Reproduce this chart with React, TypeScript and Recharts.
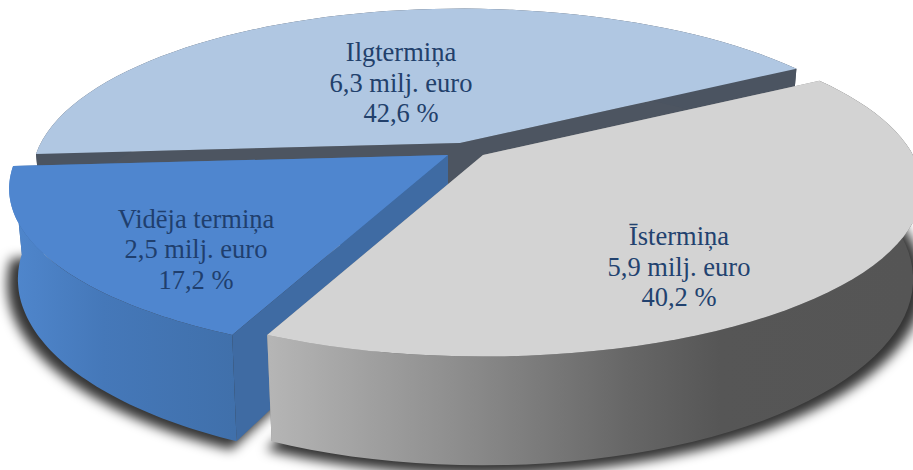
import React from "react";
import { PieChart, Pie } from "recharts";

const categories = ["Ilgtermiņa", "Vidēja termiņa", "Īstermiņa"];
const euroMillions = [6.3, 2.5, 5.9];
const shares = [42.6, 17.2, 40.2];

const chartData = categories.map((name, i) => ({ name, value: shares[i] }));

// look of each slice, same order as categories
const topColors = ["#b0c7e2", "#4f86cf", "#d3d3d3"];
const wallFills = ["#4b5461", "url(#blueWall)", "url(#grayWall)"];
const cutFills = ["#4d5561", "#3f6ba3", "#8a8a8a"];
const textColors = ["#22406b", "#1f3f6e", "#22426f"];
const explode = [
  [0, -7],
  [-12, 5],
  [23, 5],
];
// the back slice is a little narrower on its left side
const leftScale = [0.975, 1, 1];
const labelCenters = [
  [401, 53],
  [196, 219.5],
  [679, 237],
];

const CX = 460;
const CY = 150;
const RADIUS = 430;
const TILT = 0.375;
const PERSPECTIVE = 0.2;
const DEPTH = 87;
const STEPS = 60;

const toPoint = (
  ox: number,
  oy: number,
  radius: number,
  deg: number,
  frac: number,
  bottom = false,
  leftK = 1
) => {
  const a = (deg * Math.PI) / 180;
  const u = Math.cos(a) * frac;
  const v = Math.sin(a) * frac;
  const w = 1 + PERSPECTIVE * v;
  let x = (radius * u * (u < 0 ? leftK : 1)) / w;
  let y = -(radius * TILT * v) / w;
  if (bottom) {
    x *= 0.98;
    y += DEPTH / w;
  }
  return [ox + x, oy + y];
};

const toPath = (pts: number[][]) =>
  "M" + pts.map((p) => `${p[0].toFixed(1)},${p[1].toFixed(1)}`).join("L") + "Z";

const arcPoints = (
  ox: number,
  oy: number,
  radius: number,
  start: number,
  end: number,
  bottom: boolean,
  leftK: number
) => {
  const pts: number[][] = [];
  for (let i = 0; i <= STEPS; i++) {
    pts.push(toPoint(ox, oy, radius, start + ((end - start) * i) / STEPS, 1, bottom, leftK));
  }
  return pts;
};

const SliceShape = (props: any) => {
  const { cx, cy, outerRadius, startAngle, endAngle, index } = props;
  const ox = cx + explode[index][0];
  const oy = cy + explode[index][1];
  const k = leftScale[index];
  const top = arcPoints(ox, oy, outerRadius, startAngle, endAngle, false, k);
  const low = arcPoints(ox, oy, outerRadius, startAngle, endAngle, true, k);
  const apex = [ox, oy];
  const apexLow = toPoint(ox, oy, outerRadius, startAngle, 0, true);
  return (
    <g>
      <path d={toPath([apex, top[0], low[0], apexLow])} fill={cutFills[index]} />
      <path
        d={toPath([apex, top[STEPS], low[STEPS], apexLow])}
        fill={cutFills[index]}
      />
      <path d={toPath([...top, ...low.slice().reverse()])} fill={wallFills[index]} />
      <path d={toPath([apex, ...top])} fill={topColors[index]} />
    </g>
  );
};

const ShadowShape = (props: any) => {
  const { cx, cy, outerRadius, startAngle, endAngle, index } = props;
  const ox = cx + explode[index][0];
  const oy = cy + explode[index][1];
  const low = arcPoints(ox, oy, outerRadius * 1.025, startAngle, endAngle, true, leftScale[index]);
  const apexLow = toPoint(ox, oy, outerRadius, startAngle, 0, true);
  return (
    <path
      d={toPath([apexLow, ...low])}
      fill="#000"
      fillOpacity={0.8}
      filter="url(#pieShadow)"
      transform="translate(0,4)"
    />
  );
};

const fmt = (n: number) => n.toFixed(1).replace(".", ",");

const renderLabel = (props: any) => {
  const { index } = props;
  const [x, y] = labelCenters[index];
  return (
    <text
      x={x}
      y={y}
      textAnchor="middle"
      fontFamily="'Liberation Serif', serif"
      fontSize={26.5}
      fill={textColors[index]}
    >
      <tspan x={x} dy={8}>
        {categories[index]}
      </tspan>
      <tspan x={x} dy={30.5}>
        {fmt(euroMillions[index])} milj. euro
      </tspan>
      <tspan x={x} dy={30.5}>
        {fmt(shares[index])} %
      </tspan>
    </text>
  );
};

export default function App() {
  return (
    <div style={{ position: "absolute", left: 0, top: 0, width: 913, height: 470 }}>
      <PieChart width={913} height={470} margin={{ top: 0, right: 0, bottom: 0, left: 0 }}>
        <defs>
          <filter
            id="pieShadow"
            filterUnits="userSpaceOnUse"
            x={-50}
            y={0}
            width={1020}
            height={520}
          >
            <feGaussianBlur stdDeviation={6} />
          </filter>
          <linearGradient id="blueWall" gradientUnits="userSpaceOnUse" x1={15} y1={0} x2={235} y2={0}>
            <stop offset="0%" stopColor="#4f86cc" />
            <stop offset="40%" stopColor="#4578b9" />
            <stop offset="100%" stopColor="#4070ab" />
          </linearGradient>
          <linearGradient id="grayWall" gradientUnits="userSpaceOnUse" x1={270} y1={0} x2={913} y2={0}>
            <stop offset="0%" stopColor="#b5b5b5" />
            <stop offset="28%" stopColor="#8f8f8f" />
            <stop offset="56%" stopColor="#666666" />
            <stop offset="70%" stopColor="#565656" />
            <stop offset="100%" stopColor="#555555" />
          </linearGradient>
        </defs>
        <Pie
          data={chartData}
          dataKey="value"
          cx={CX}
          cy={CY}
          innerRadius={0}
          outerRadius={RADIUS}
          startAngle={30.5}
          endAngle={390.5}
          stroke="none"
          shape={ShadowShape}
          isAnimationActive={false}
        />
        <Pie
          data={chartData}
          dataKey="value"
          cx={CX}
          cy={CY}
          innerRadius={0}
          outerRadius={RADIUS}
          startAngle={30.5}
          endAngle={390.5}
          stroke="none"
          shape={SliceShape}
          label={renderLabel}
          labelLine={false}
          isAnimationActive={false}
        />
      </PieChart>
    </div>
  );
}
